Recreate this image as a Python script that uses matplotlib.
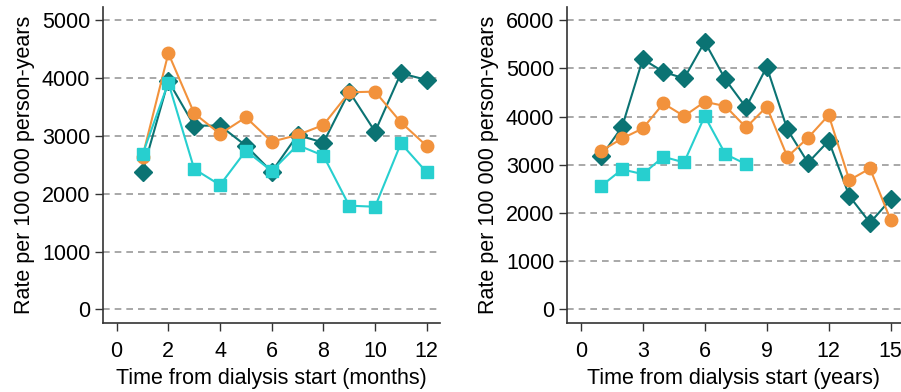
import numpy as np
import matplotlib.pyplot as plt

plt.rcParams['font.family'] = ['Liberation Sans', 'DejaVu Sans']

# Dados - painel esquerdo (meses)
meses = [1, 2, 3, 4, 5, 6, 7, 8, 9, 10, 11, 12]
meses_teal = [2380, 3950, 3176, 3176, 2830, 2380, 3014, 2882, 3764, 3072, 4081, 3965]
meses_laranja = [2640, 4426, 3389, 3032, 3320, 2899, 3014, 3187, 3752, 3764, 3233, 2824]
meses_ciano = [2680, 3919, 2427, 2150, 2743, 2392, 2841, 2657, 1793, 1775, 2870, 2369]

# Dados - painel direito (anos)
anos = list(range(1, 16))
anos_teal = [3179, 3787, 5190, 4927, 4789, 5549, 4768, 4188, 5031, 3732, 3041, 3497, 2350, 1797, 2281]
anos_laranja = [3290, 3545, 3753, 4271, 4008, 4305, 4216, 3773, 4202, 3165, 3559, 4029, 2681, 2923, 1852]
anos_ciano_x = [1, 2, 3, 4, 5, 6, 7, 8]
anos_ciano = [2564, 2903, 2806, 3165, 3048, 4008, 3220, 3013]

cor_teal = '#0b7373'
cor_laranja = '#f2923c'
cor_ciano = '#27cfcf'

fig = plt.figure(figsize=(9.01, 3.92), dpi=100)
ax1 = fig.add_axes([0.114, 0.175, 0.374, 0.807])
ax2 = fig.add_axes([0.629, 0.175, 0.371, 0.807])


def desenhar(ax, x1, y1, x2, y2, x3, y3):
    ax.plot(x1, y1, color=cor_teal, marker='D', markersize=9, lw=1.5, zorder=3)
    ax.plot(x2, y2, color=cor_laranja, marker='o', markersize=9, lw=1.5, zorder=4)
    ax.plot(x3, y3, color=cor_ciano, marker='s', markersize=8.5, lw=1.5, zorder=5)
    ax.yaxis.grid(True, linestyle=(0, (4, 3)), color='#999999', lw=1.2)
    ax.set_axisbelow(True)
    for s in ['top', 'right']:
        ax.spines[s].set_visible(False)
    for s in ['left', 'bottom']:
        ax.spines[s].set_color('#333333')
        ax.spines[s].set_linewidth(1.2)
    ax.tick_params(direction='out', length=6, width=1, colors='#333333', labelsize=15.5,
                   labelcolor='black', pad=3)
    ax.tick_params(axis='x', pad=7)
    ax.set_ylabel('Rate per 100 000 person-years', fontsize=15.5, labelpad=5)


desenhar(ax1, meses, meses_teal, meses, meses_laranja, meses, meses_ciano)
ax1.set_xlim(-0.54, 12.5)
ax1.set_ylim(-241, 5225)
ax1.set_xticks(range(0, 13, 2))
ax1.set_yticks(range(0, 5001, 1000))
ax1.set_xlabel('Time from dialysis start (months)', fontsize=15.5, labelpad=4)

desenhar(ax2, anos, anos_teal, anos, anos_laranja, anos_ciano_x, anos_ciano)
ax2.set_xlim(-0.68, 15.5)
ax2.set_ylim(-290, 6270)
ax2.set_xticks(range(0, 16, 3))
ax2.set_yticks(range(0, 6001, 1000))
ax2.set_xlabel('Time from dialysis start (years)', fontsize=15.5, labelpad=4)

plt.savefig('out.png', dpi=100)
